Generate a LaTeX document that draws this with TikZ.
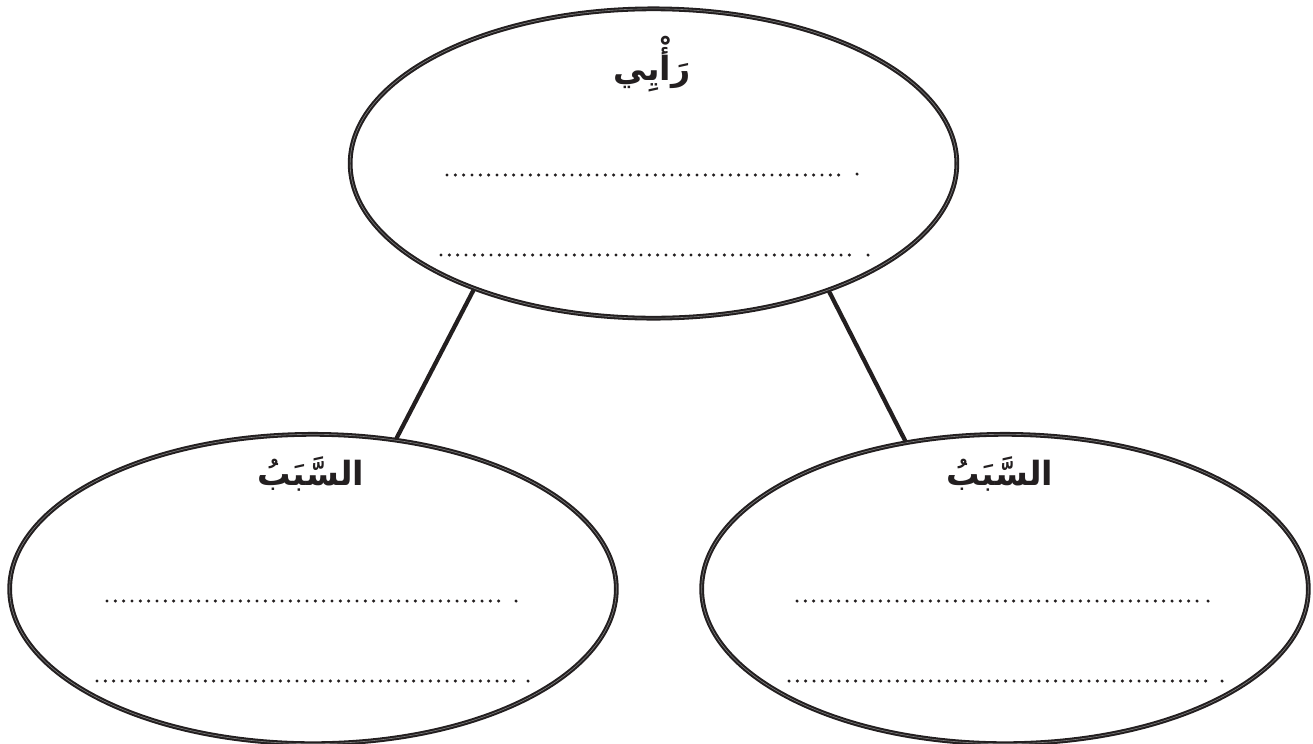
\documentclass[tikz,border=0pt]{standalone}
\usepackage{fontspec}
\usetikzlibrary{shapes.geometric}
\TeXXeTstate=1
\newfontfamily\arabicfont[Script=Arabic]{DejaVu Sans}
\definecolor{ink}{HTML}{231F20}
\tikzset{
  bubble/.style={ellipse, draw=ink, line width=1.55pt, double=black!50, double distance=0.45pt,
    minimum width=455pt, minimum height=232pt, inner sep=0pt},
  link/.style={draw=ink, line width=3.2pt},
  dotrow/.style={draw=ink, line width=2.6pt, line cap=round, dash pattern=on 0pt off 6.25pt},
  enddot/.style={fill=ink, draw=none},
  label/.style={text=ink, font=\arabicfont\bfseries\fontsize{25}{30}\selectfont, inner sep=0pt}
}
\begin{document}
\begin{tikzpicture}[x=0.75pt, y=-0.75pt]
\useasboundingbox (0,0) rectangle (1313,743);
\node[bubble] (top) at (653.5,163.5) {};
\node[bubble] (left) at (313,589) {};
\node[bubble] (right) at (1005,589) {};
\draw[link] (top.215) -- (left.61);
\draw[link] (top.-36) -- (right.124);
\node[label] (t1) at (652,64) {\beginR رَأْيِي\endR};
\node[label] (t2) at (311,474) {\beginR السَّبَبُ\endR};
\node[label] (t3) at (1000,474) {\beginR السَّبَبُ\endR};
% dotted rows
\draw[dotrow] (447,175) -- (846,175);
\fill[enddot] (857,174) circle (1.3pt);
\draw[dotrow] (441,255) -- (857,255);
\fill[enddot] (868,255) circle (1.3pt);
\draw[dotrow] (107,601) -- (506,601);
\fill[enddot] (516,601) circle (1.3pt);
\draw[dotrow] (97,681) -- (518,681);
\fill[enddot] (528,681) circle (1.3pt);
\draw[dotrow] (797,601) -- (1198,601);
\fill[enddot] (1208,601) circle (1.3pt);
\draw[dotrow] (789,681) -- (1212,681);
\fill[enddot] (1222,681) circle (1.3pt);
\end{tikzpicture}
\end{document}
